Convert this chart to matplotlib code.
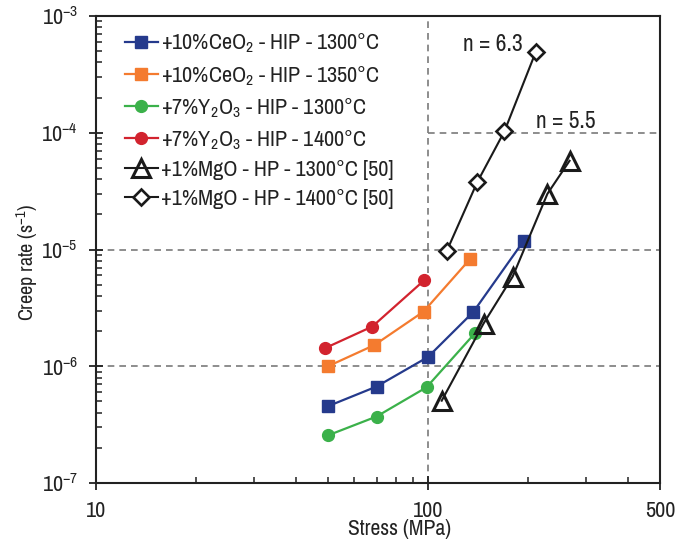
import matplotlib
matplotlib.use("Agg")
import matplotlib.pyplot as plt
from matplotlib.ticker import LogLocator, LogFormatterMathtext, NullFormatter, FixedLocator, FixedFormatter

plt.rcParams['font.family'] = ['Archivo Narrow', 'Liberation Sans', 'DejaVu Sans']
plt.rcParams['mathtext.default'] = 'regular'

# stress (MPa) / creep rate (1/s)
ceo2_1300_x = [50, 70, 100, 137, 194]
ceo2_1300_y = [4.55e-7, 6.7e-7, 1.2e-6, 2.92e-6, 1.18e-5]
ceo2_1350_x = [50, 69, 97, 134]
ceo2_1350_y = [1.0e-6, 1.52e-6, 2.94e-6, 8.3e-6]
y2o3_1300_x = [50, 70, 99, 139]
y2o3_1300_y = [2.56e-7, 3.71e-7, 6.6e-7, 1.94e-6]
y2o3_1400_x = [49, 68, 97.5]
y2o3_1400_y = [1.43e-6, 2.19e-6, 5.46e-6]
mgo_1300_x = [110, 147, 180, 229, 267]
mgo_1300_y = [5.07e-7, 2.32e-6, 5.87e-6, 3.0e-5, 5.75e-5]
mgo_1400_x = [114, 140.6, 170, 211]
mgo_1400_y = [9.75e-6, 3.75e-5, 1.03e-4, 4.89e-4]

labels = [
    '+10%CeO$_2$ - HIP - 1300°C',
    '+10%CeO$_2$ - HIP - 1350°C',
    '+7%Y$_2$O$_3$ - HIP - 1300°C',
    '+7%Y$_2$O$_3$ - HIP - 1400°C',
    '+1%MgO - HP - 1300°C [50]',
    '+1%MgO - HP - 1400°C [50]',
]

fig = plt.figure(figsize=(6.93, 5.45), dpi=100)
ax = fig.add_axes([96/693, 62/545, 564/693, 467/545])
ax.set_xscale('log')
ax.set_yscale('log')
ax.set_xlim(10, 500)
ax.set_ylim(1e-7, 1e-3)

grid_kw = dict(color='#7a7a7a', lw=1.2, ls=(0, (4, 3)), zorder=1)
ax.axvline(100, **grid_kw)
ax.axhline(1e-5, **grid_kw)
ax.axhline(1e-6, **grid_kw)
ax.hlines(1e-4, 100, 500, **grid_kw)

ax.plot(ceo2_1300_x, ceo2_1300_y, '-s', color='#253a8c', lw=1.6, ms=8, label=labels[0], zorder=3)
ax.plot(ceo2_1350_x, ceo2_1350_y, '-s', color='#f47b2f', lw=1.6, ms=8, label=labels[1], zorder=3)
ax.plot(y2o3_1300_x, y2o3_1300_y, '-o', color='#3bb14a', lw=1.6, ms=8.5, label=labels[2], zorder=3)
ax.plot(y2o3_1400_x, y2o3_1400_y, '-o', color='#d2232e', lw=1.6, ms=8.5, label=labels[3], zorder=3)
ax.plot(mgo_1300_x, mgo_1300_y, '-^', color='#1a1a1a', lw=1.5, ms=13, mew=2.2,
        mfc='none', label=labels[4], zorder=3)
ax.plot(mgo_1400_x, mgo_1400_y, '-D', color='#1a1a1a', lw=1.5, ms=8.5, mew=1.9,
        mfc='white', label=labels[5], zorder=3)

ax.text(157, 5.65e-4, 'n = 6.3', fontsize=17, ha='center', va='center', color='#222222')
ax.text(260, 1.24e-4, 'n = 5.5', fontsize=17, ha='center', va='center', color='#222222')

ax.set_xlabel('Stress (MPa)', fontsize=15.5, labelpad=1, color='#222222')
ax.xaxis.set_label_coords(0.539, -0.078)
ax.set_ylabel('Creep rate (s$^{-1}$)', fontsize=14.5, color='#222222')
ax.yaxis.set_label_coords(-0.1, 0.473)

ax.xaxis.set_major_locator(FixedLocator([10, 100, 500]))
ax.xaxis.set_major_formatter(FixedFormatter(['10', '100', '500']))
ax.xaxis.set_minor_locator(FixedLocator([20, 30, 40, 50, 60, 70, 80, 90, 200, 300, 400]))
ax.xaxis.set_minor_formatter(NullFormatter())
ax.yaxis.set_major_locator(LogLocator(base=10, numticks=10))
ax.yaxis.set_major_formatter(LogFormatterMathtext())
ax.yaxis.set_minor_locator(LogLocator(base=10, subs=range(2, 10), numticks=20))
ax.yaxis.set_minor_formatter(NullFormatter())

ax.tick_params(which='major', direction='inout', length=10, width=1.3, labelsize=16,
               colors='#222222', pad=6)
ax.tick_params(which='minor', direction='in', length=4.5, width=1.1, color='#222222')
ax.tick_params(axis='x', which='major', pad=8)
ax.tick_params(axis='y', which='major', pad=8)
for s in ax.spines.values():
    s.set_linewidth(1.5)
    s.set_color('#222222')

ax.legend(loc='upper left', bbox_to_anchor=(0.035, 0.985), frameon=False, fontsize=16,
          handlelength=1.5, handletextpad=0.15, labelspacing=0.38, borderaxespad=0.0,
          labelcolor='#222222')

fig.savefig('out.png', dpi=100)
